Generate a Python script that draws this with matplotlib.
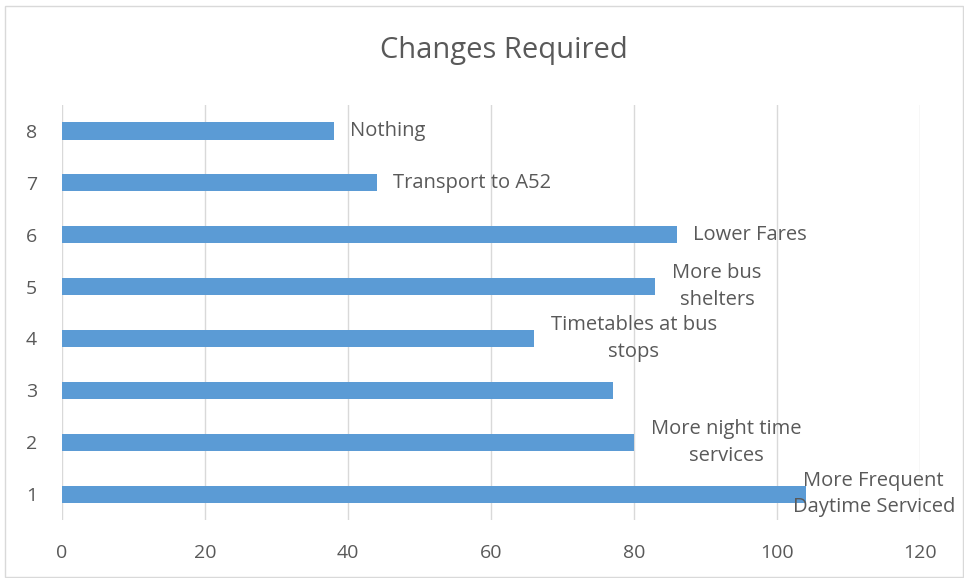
import matplotlib.pyplot as plt
from matplotlib.patches import Rectangle

plt.rcParams['font.family'] = ['Open Sans', 'DejaVu Sans']

categories = [1, 2, 3, 4, 5, 6, 7, 8]
values = [104, 80, 77, 66, 83, 86, 44, 38]
labels = [
    "More Frequent\nDaytime Serviced",
    "More night time\nservices",
    "",
    "Timetables at bus\nstops",
    "More bus\nshelters",
    "Lower Fares",
    "Transport to A52",
    "Nothing",
]
# horizontal nudge (pixels) for each label, the first one is pulled back inside the frame
label_dx = [-13, 17, 17, 17, 17, 16, 16, 16]

text_color = "#595959"
grid_color = "#d9d9d9"
bar_color = "#5b9bd5"

fig = plt.figure(figsize=(9.64, 5.78), dpi=100)
ax = fig.add_axes([0.0643, 0.1003, 0.8900, 0.7180])

ax.barh(categories, values, height=0.33, color=bar_color, zorder=3)

for y, v, lab, dx in zip(categories, values, labels, label_dx):
    if lab:
        ax.annotate(lab, xy=(v, y), xytext=(dx, 0), textcoords="offset pixels",
                    ha="left", va="center", multialignment="center",
                    fontsize=14.5, color=text_color, linespacing=1.45,
                    annotation_clip=False)

ax.set_xlim(0, 120)
ax.set_ylim(0.5, 8.5)
ax.set_xticks(range(0, 121, 20))
ax.set_yticks(categories)
ax.tick_params(axis="both", length=0, labelsize=14, colors=text_color)
ax.tick_params(axis="x", pad=17)
ax.tick_params(axis="y", pad=18)
ax.grid(axis="x", color=grid_color, linewidth=1, zorder=0)
for s in ax.spines.values():
    s.set_visible(False)

fig.text(0.523, 0.912, "Changes Required", ha="center", va="center",
         fontsize=21, color=text_color)

# outer chart frame
fig.patches.append(Rectangle((5 / 964, 1 / 578), 958 / 964, 571 / 578,
                             transform=fig.transFigure, fill=False,
                             edgecolor=grid_color, linewidth=1))

fig.savefig("out.png", dpi=100)
